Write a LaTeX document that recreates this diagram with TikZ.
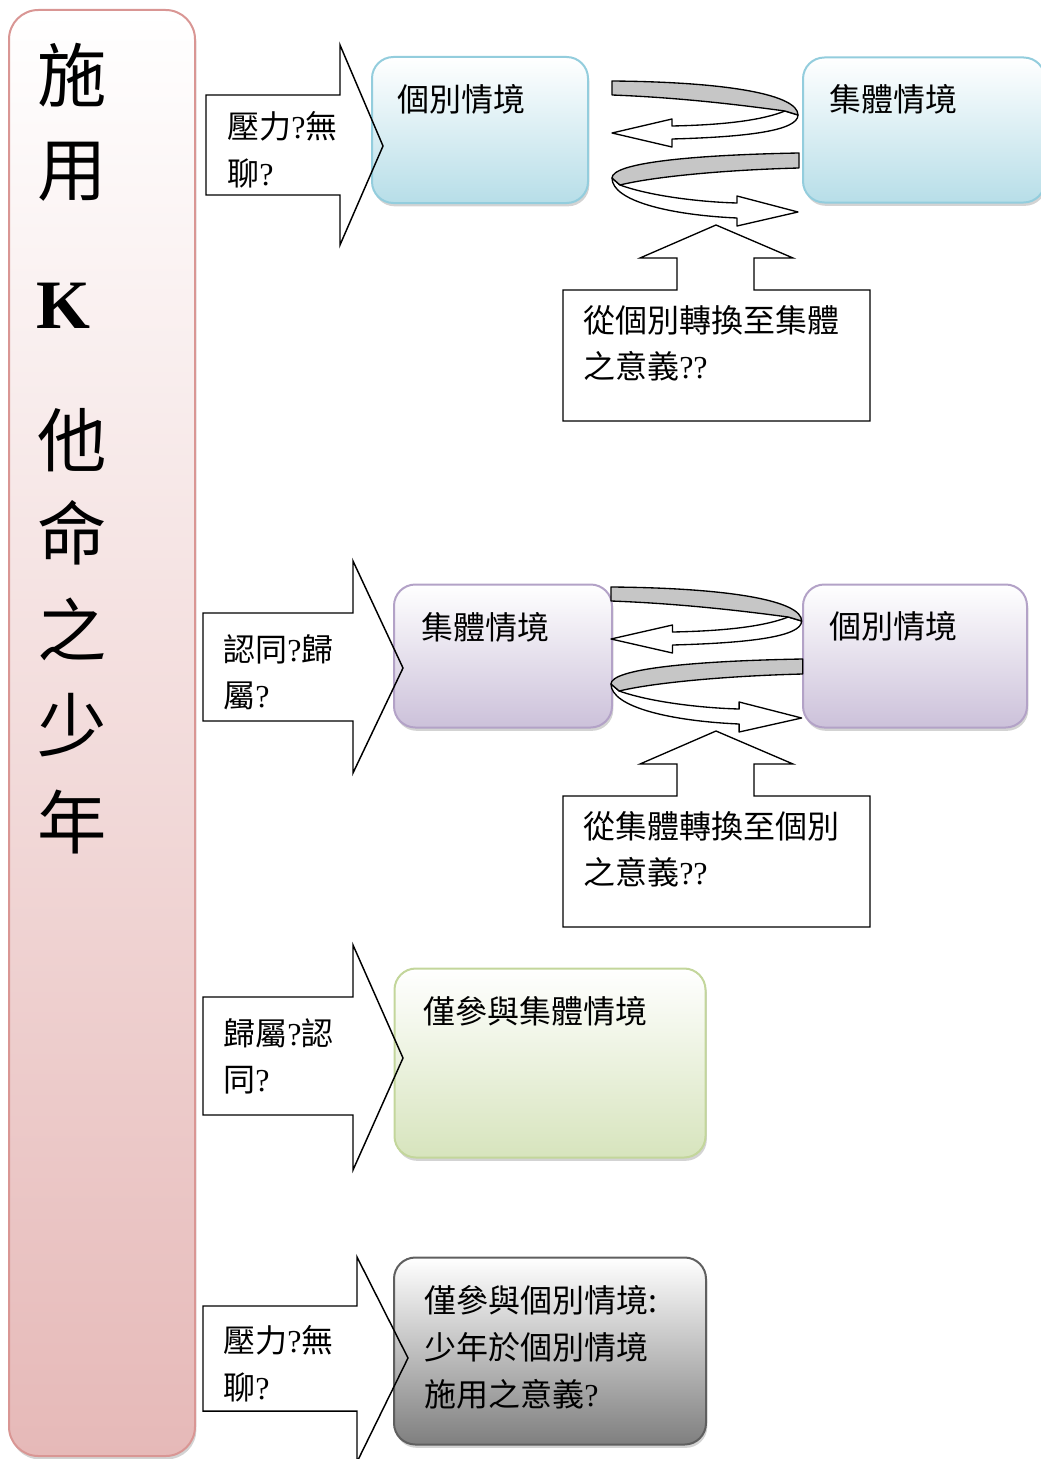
\documentclass[tikz,border=0pt]{standalone}
\usepackage{fontspec}
\setmainfont{Liberation Serif}
\newfontfamily\cjk{Noto Sans CJK TC}
\usetikzlibrary{calc, shadows}

\definecolor{barline}{HTML}{D99694}
\definecolor{barfill}{HTML}{E6B9B8}
\definecolor{blueline}{HTML}{93CDDD}
\definecolor{bluefill}{HTML}{B7DEE8}
\definecolor{purpleline}{HTML}{B3A2C7}
\definecolor{purplefill}{HTML}{CCC1DA}
\definecolor{greenline}{HTML}{C3D69B}
\definecolor{greenfill}{HTML}{D7E4BD}
\definecolor{greyline}{HTML}{5F5F5F}
\definecolor{greyfill}{HTML}{7F7F7F}
\definecolor{ribbongray}{HTML}{C6C6C6}

\newcommand{\askmark}{{\rmfamily ?}}

\tikzset{
  situation/.style={rounded corners=16pt, line width=1.5pt, inner sep=0pt,
    drop shadow={shadow xshift=1pt, shadow yshift=-2.5pt, opacity=0.35}},
  bluebox/.style={situation, draw=blueline, top color=white, bottom color=bluefill},
  purplebox/.style={situation, draw=purpleline, top color=white, bottom color=purplefill},
  greenbox/.style={situation, draw=greenline, top color=white, bottom color=greenfill},
  greybox/.style={situation, draw=greyline, top color=white, bottom color=greyfill},
  bar char/.style={font=\cjk\fontsize{52}{52}\selectfont, inner sep=0pt},
  label text/.style={font=\cjk\fontsize{24}{35}\selectfont, inner sep=0pt,
    align=left, anchor=north west},
  fat arrow/.style={line width=1.1pt, line join=miter},
  ribbon band/.style={draw=black, line width=1pt, line join=round},
  spiral/.pic={
    \filldraw[ribbon band, fill=white] (173,30) .. controls (148,40) and (108,44) .. (60,45)
      -- (60,38) -- (0,52) -- (60,66) -- (60,58) .. controls (133,56) and (186,50) .. (186,34) -- cycle;
    \filldraw[ribbon band, fill=ribbongray] (0,0) .. controls (118,1) and (186,14) .. (186,34)
      -- (173,30) .. controls (150,27) and (80,17) .. (0,14) -- cycle;
    \filldraw[ribbon band, fill=white] (8,104) .. controls (38,115) and (88,121) .. (125,122)
      -- (125,115) -- (186,131) -- (125,145) -- (125,137) .. controls (58,134) and (0,120) .. (0,97) -- cycle;
    \filldraw[ribbon band, fill=ribbongray] (187,72) .. controls (78,74) and (0,82) .. (0,97)
      -- (8,104) .. controls (40,96) and (110,89) .. (187,87) -- cycle;
  },
  callout/.pic={
    \draw[line width=1pt, fill=white] (0,0) -- (114,0) -- (114,-32) -- (77,-32) -- (153,-65)
      -- (230,-32) -- (191,-32) -- (191,0) -- (307,0) -- (307,131) -- (0,131) -- cycle;
  },
}

\begin{document}
\begin{tikzpicture}[x=0.75pt, y=-0.75pt]
    \useasboundingbox (0,0) rectangle (1041,1459);
    \clip (0,0) rectangle (1041,1459);

    % title bar on the left
    \node[situation, draw=barline, top color=white, bottom color=barfill, rounded corners=22pt,
          minimum width=186*0.75pt, minimum height=1446*0.75pt] (bar) at (102,733) {};
    \foreach \ch/\yy [count=\i] in {施/75, 用/172, 他/440, 命/533, 之/629, 少/725, 年/822}
        \node[bar char] (word\i) at (72,\yy) {\ch};
    \node[inner sep=0pt, font=\rmfamily\bfseries\fontsize{52}{52}\selectfont] (letterK) at (63,306) {K};

    % fat arrows: white first, outlines over the boxes later
    \path[save path=\arrowA] (206,95) -- (340,95) -- (340,45) -- (383,146) -- (340,245) -- (340,195) -- (206,195) -- cycle;
    \path[save path=\arrowB] (203,613) -- (353,613) -- (353,561) -- (403,668) -- (353,773) -- (353,721) -- (203,721) -- cycle;
    \path[save path=\arrowC] (203,997) -- (353,997) -- (353,945) -- (403,1058) -- (353,1170) -- (353,1115) -- (203,1115) -- cycle;
    \path[save path=\arrowD] (203,1306) -- (357,1306) -- (357,1257) -- (408,1358) -- (357,1462) -- (357,1411) -- (203,1411) -- cycle;
    \fill[white, use path=\arrowA];
    \fill[white, use path=\arrowB];
    \fill[white, use path=\arrowC];
    \fill[white, use path=\arrowD];

    % situation boxes
    \node[bluebox, minimum width=216*0.75pt, minimum height=146*0.75pt] (soloA) at (480,130) {};
    \node[bluebox, minimum width=242*0.75pt, minimum height=145*0.75pt] (groupA) at (924,130) {};
    \node[purplebox, minimum width=218*0.75pt, minimum height=143*0.75pt] (groupB) at (503,656) {};
    \node[purplebox, minimum width=224*0.75pt, minimum height=143*0.75pt] (soloB) at (915,656) {};
    \node[greenbox, minimum width=311*0.75pt, minimum height=189*0.75pt] (groupOnly) at (550,1063) {};
    \node[greybox, minimum width=312*0.75pt, minimum height=187*0.75pt] (soloOnly) at (550,1351) {};

    \draw[fat arrow, use path=\arrowA];
    \draw[fat arrow, use path=\arrowB];
    \draw[fat arrow, use path=\arrowC];
    \draw[fat arrow, use path=\arrowD];

    % switching spirals and their callouts
    \pic at (612,81) {spiral};
    \pic[xscale=1.025] at (611,587) {spiral};
    \pic at (563,290) {callout};
    \pic at (563,796) {callout};

    % texts
    \node[label text] (why1) at (227,111) {壓力\askmark 無\\聊\askmark};
    \node[label text] (why2) at (223,634) {認同\askmark 歸\\屬\askmark};
    \node[label text] (why3) at (223,1018) {歸屬\askmark 認\\同\askmark};
    \node[label text] (why4) at (223,1325) {壓力\askmark 無\\聊\askmark};

    \node[label text] (soloAtext) at ($(soloA.north west)+(26,28)$) {個別情境};
    \node[label text] (groupAtext) at ($(groupA.north west)+(27,28)$) {集體情境};
    \node[label text] (groupBtext) at ($(groupB.north west)+(28,29)$) {集體情境};
    \node[label text] (soloBtext) at ($(soloB.north west)+(27,28)$) {個別情境};
    \node[label text] (groupOnlytext) at ($(groupOnly.north west)+(30,29)$) {僅參與集體情境};
    \node[label text] (soloOnlytext) at ($(soloOnly.north west)+(31,29)$)
        {僅參與個別情境:\\少年於個別情境\\施用之意義\askmark};

    \node[label text] (switch1) at (583,305) {從個別轉換至集體\\之意義\askmark\askmark};
    \node[label text] (switch2) at (583,811) {從集體轉換至個別\\之意義\askmark\askmark};
\end{tikzpicture}
\end{document}
